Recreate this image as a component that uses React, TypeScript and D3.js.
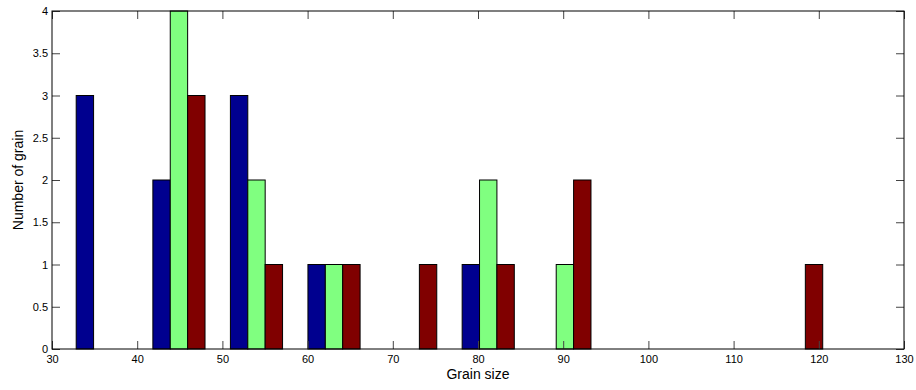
import React, { FC, useEffect, useRef } from "react"
import { axisBottom, axisLeft, axisRight, axisTop, scaleLinear, select } from "d3"

// bin centres of the histogram (grain size)
const binCenters = [35.9, 44.9, 54.0, 63.1, 72.1, 81.2, 90.2, 99.3, 108.4, 117.4]

// counts per sample
const blueCounts = [3, 2, 3, 1, 0, 1, 0, 0, 0, 0]
const greenCounts = [0, 4, 2, 1, 0, 2, 1, 0, 0, 0]
const redCounts = [0, 3, 1, 1, 1, 1, 2, 0, 0, 1]

const seriesColors = ["#00008f", "#80ff80", "#800000"]

const xTicks = [30, 40, 50, 60, 70, 80, 90, 100, 110, 120, 130]
const yTicks = [0, 0.5, 1, 1.5, 2, 2.5, 3, 3.5, 4]

type Bar = {
  center: number
  series: number
  value: number
}

const App: FC = () => {
  const wrapperRef = useRef<HTMLDivElement>(null)

  useEffect(() => {
    const element = wrapperRef.current
    if (!element) return
    select(element).selectAll("*").remove()

    // 1. dimensions
    const width = 916
    const height = 390
    const margin = { top: 11, right: 12, bottom: 41, left: 52 }
    const boundedWidth = width - margin.left - margin.right
    const boundedHeight = height - margin.top - margin.bottom

    // 2. data
    const series = [blueCounts, greenCounts, redCounts]
    const bars: Bar[] = []
    series.forEach((counts, s) => {
      counts.forEach((value, i) => {
        bars.push({ center: binCenters[i], series: s, value })
      })
    })

    // 3. mount
    const svg = select(element)
      .append("svg")
      .attr("width", width)
      .attr("height", height)
      .style("position", "absolute")
      .style("left", "0px")
      .style("top", "0px")
      .style("font-family", "'Liberation Sans', Arial, sans-serif")

    svg.append("rect").attr("width", width).attr("height", height).attr("fill", "white")

    const bounds = svg
      .append("g")
      .attr("transform", `translate(${margin.left}, ${margin.top})`)

    // 4. scales
    const xScale = scaleLinear().domain([30, 130]).range([0, boundedWidth])
    const yScale = scaleLinear().domain([0, 4]).range([boundedHeight, 0])

    const barUnits = 2.04

    // 5. bars
    bounds
      .selectAll(".bar")
      .data(bars)
      .join("rect")
      .attr("class", "bar")
      .attr("x", (d) => xScale(d.center + (d.series - 1.5) * barUnits))
      .attr("width", xScale(30 + barUnits) - xScale(30))
      .attr("y", (d) => yScale(d.value))
      .attr("height", (d) => yScale(0) - yScale(d.value))
      .attr("fill", (d) => seriesColors[d.series])
      .attr("stroke", "black")
      .attr("stroke-width", 1)

    // 6. axes (ticks pointing inwards, box on all sides)
    const tickLen = 8
    const styleAxis = (g: any) => {
      g.select(".domain").remove()
      g.selectAll(".tick line").attr("stroke", "#444")
      g.selectAll(".tick text").attr("fill", "black").style("font-size", "11px")
    }

    const xAxis = bounds
      .append("g")
      .attr("transform", `translate(0, ${boundedHeight})`)
      .call(
        axisBottom(xScale)
          .tickValues(xTicks)
          .tickSizeInner(-tickLen)
          .tickSizeOuter(0)
          .tickPadding(6)
          .tickFormat((d) => String(d)),
      )
    styleAxis(xAxis)

    bounds
      .append("g")
      .call(axisTop(xScale).tickValues(xTicks).tickSizeInner(-tickLen).tickSizeOuter(0).tickFormat(() => ""))
      .call(styleAxis)

    const yAxis = bounds
      .append("g")
      .call(
        axisLeft(yScale)
          .tickValues(yTicks)
          .tickSizeInner(-tickLen)
          .tickSizeOuter(0)
          .tickPadding(4)
          .tickFormat((d) => String(d)),
      )
    styleAxis(yAxis)

    bounds
      .append("g")
      .attr("transform", `translate(${boundedWidth}, 0)`)
      .call(axisRight(yScale).tickValues(yTicks).tickSizeInner(-tickLen).tickSizeOuter(0).tickFormat(() => ""))
      .call(styleAxis)

    // box
    bounds
      .append("rect")
      .attr("width", boundedWidth)
      .attr("height", boundedHeight)
      .attr("fill", "none")
      .attr("stroke", "black")
      .attr("stroke-width", 1)

    // 7. labels
    svg
      .append("text")
      .text("Grain size")
      .attr("x", margin.left + boundedWidth / 2)
      .attr("y", 379)
      .attr("text-anchor", "middle")
      .style("font-size", "14px")

    svg
      .append("text")
      .text("Number of grain")
      .attr("transform", `translate(23, ${margin.top + boundedHeight / 2}) rotate(-90)`)
      .attr("text-anchor", "middle")
      .style("font-size", "14px")
  }, [])

  return <div ref={wrapperRef} id="wrapper" />
}

export default App
